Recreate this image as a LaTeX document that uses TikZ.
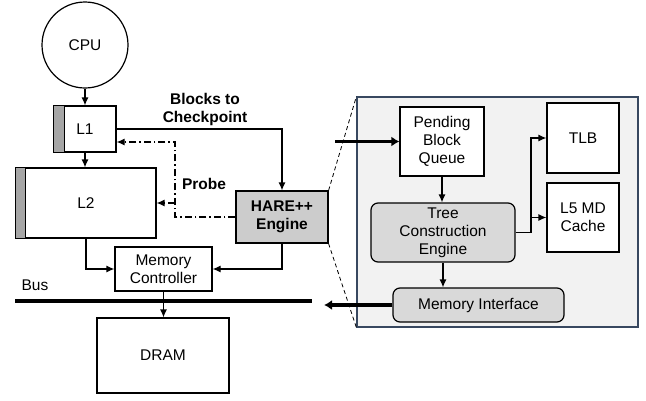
\documentclass[tikz,border=0pt]{standalone}
\usepackage{fontspec}
\setmainfont{Liberation Sans}
\usetikzlibrary{arrows.meta}
\tikzset{
  blk/.style={draw, line width=1.2pt, fill=white, align=center, inner sep=0pt},
  rblk/.style={blk, rounded corners=7pt, fill=grayB},
  conn/.style={line width=1.2pt, -{Latex[length=8pt,width=7pt]}},
  thick conn/.style={line width=3.5pt, -{Latex[length=8pt,width=10pt]}},
  probe/.style={conn, dash pattern=on 7pt off 3pt on 1.5pt off 3pt},
  zoomline/.style={line width=0.8pt, dash pattern=on 4pt off 3pt},
  stripe/.style={draw, line width=1.2pt, fill=grayS}
}
\definecolor{grayS}{RGB}{166,166,166}
\definecolor{grayH}{RGB}{204,204,204}
\definecolor{grayB}{RGB}{217,217,217}
\definecolor{panelfill}{RGB}{242,242,242}
\definecolor{panelline}{RGB}{56,72,96}
\begin{document}
\begin{tikzpicture}[x=1pt, y=-1pt, font=\fontsize{15.5}{18}\selectfont]
                        \useasboundingbox (0,0) rectangle (646,400);

                        % left side: the cache hierarchy
                        \node [draw, circle, line width=1.2pt, minimum size=86pt] (cpu) at (85,45) {CPU};
                        \node [blk, minimum width=62pt, minimum height=46pt] (l1) at (85,129) {L1};
                        \filldraw [stripe] (l1.north west) rectangle ([xshift=11pt]l1.south west);
                        \node [blk, minimum width=140pt, minimum height=70pt] (l2) at (86,203) {L2};
                        \filldraw [stripe] (l2.north west) rectangle ([xshift=10pt]l2.south west);
                        \node [blk, minimum width=97pt, minimum height=44pt] (mc) at (163.5,269) {Memory\\Controller};
                        \node [blk, minimum width=132pt, minimum height=75pt] (dram) at (163,355.5) {DRAM};
                        \node [blk, fill=grayH, font=\fontsize{15.5}{18}\selectfont\bfseries,
                               minimum width=92pt, minimum height=52pt] (hare) at (282,217) {HARE++\\Engine};

                        \coordinate (busl) at (15,301);
                        \coordinate (busr) at (312,301);
                        \draw [line width=4pt] (busl) -- (busr);

                        \draw [conn] (cpu.south) -- (l1.north);
                        \draw [conn] (l1.south) -- (l1.south |- l2.north);
                        \draw [conn] (l2.south) |- (mc.west);
                        \draw [conn] (hare.south) |- (mc.east);
                        \draw [conn] (mc.south) -- (mc.south |- dram.north);
                        \draw [conn] (l1.east) -| (hare.north);

                        \coordinate (pj) at (175,217);
                        \draw [probe] (hare.west) -- (pj) |- ([yshift=-13pt]l1.east);
                        \draw [probe] (pj |- l2.east) -- (l2.east);

                        \node [fill=none, align=center, font=\fontsize{15.5}{18}\selectfont\bfseries] (lblk) at (205,109) {Blocks to\\Checkpoint};
                        \node [fill=none, font=\fontsize{15.5}{18}\selectfont\bfseries] (lprb) at (204,184) {Probe};
                        \node [fill=none] (lbus) at (35,285) {Bus};

                        % right side: inside the engine
                        \node [draw=panelline, line width=1.2pt, fill=panelfill, minimum width=281pt, minimum height=230pt,
                               inner sep=0pt] (panel) at (497.5,212) {};
                        \draw [zoomline] (hare.north east) -- (panel.north west);
                        \draw [zoomline] (hare.south east) -- (panel.south west);

                        \node [blk, minimum width=84pt, minimum height=69pt] (pbq) at (442,141.5) {Pending\\Block\\Queue};
                        \node [blk, minimum width=72pt, minimum height=70pt] (tlb) at (583,138) {TLB};
                        \node [blk, minimum width=72pt, minimum height=69pt] (l5) at (583,217.5) {L5 MD\\Cache};
                        \node [rblk, minimum width=144pt, minimum height=59pt] (tce) at (443,232.5) {Tree\\Construction\\Engine};
                        \node [rblk, minimum width=171pt, minimum height=34pt] (memif) at (478.5,305) {Memory Interface};

                        \coordinate (pin) at (335,141.5);
                        \coordinate (pout) at (324,305);
                        \coordinate (tj) at (531,232.5);
                        \draw [thick conn] (pin) -- (pbq.west);
                        \draw [thick conn] (memif.west) -- (pout);
                        \draw [conn] (pbq.south) -- (pbq.south |- tce.north);
                        \draw [conn] (tce.south) -- (tce.south |- memif.north);
                        \draw [conn] (tce.east) -- (tj) |- (tlb.west);
                        \draw [conn] (tj) |- (l5.west);
                    \end{tikzpicture}
\end{document}
